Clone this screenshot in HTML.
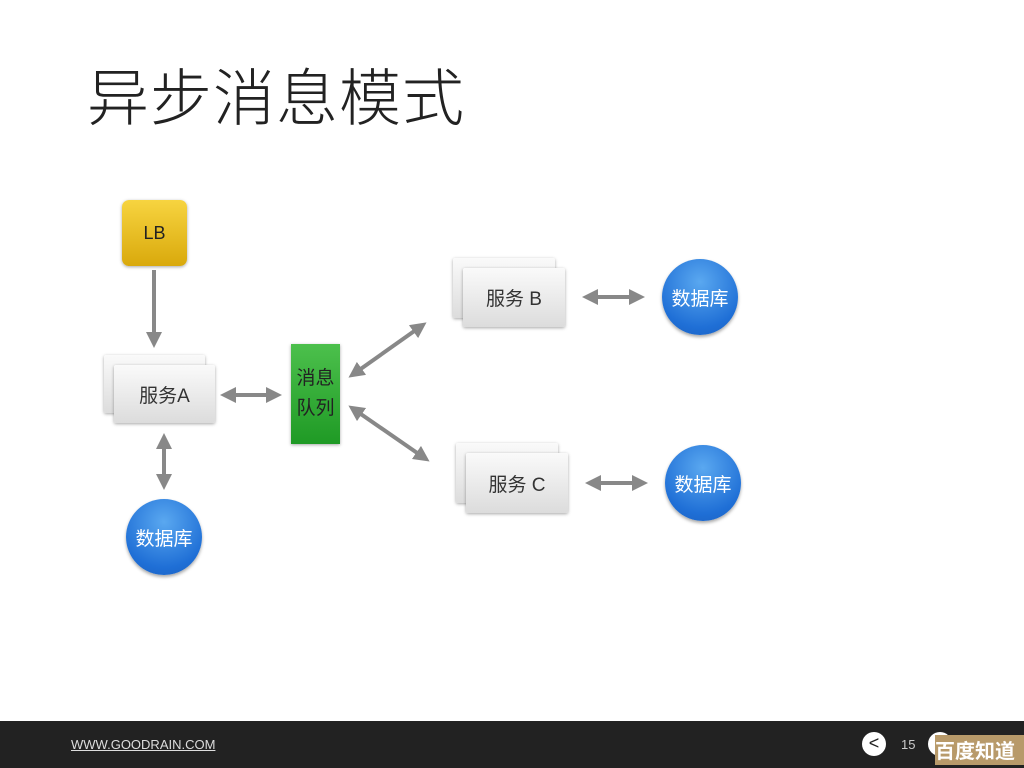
<!DOCTYPE html>
<html><head><meta charset="utf-8"><style>
body{margin:0;width:1024px;height:768px;background:#fff;position:relative;overflow:hidden;font-family:"Liberation Sans","Noto Sans CJK SC",sans-serif}
.t{position:absolute;left:87px;top:48px;font-size:62px;font-weight:300;color:#222;letter-spacing:1px;font-family:"Noto Sans CJK SC",sans-serif}
.card{position:absolute;background:linear-gradient(#fafafa,#dcdcdc);box-shadow:0 1px 3px rgba(0,0,0,.35);border-radius:2px}
.lbl{display:flex;align-items:center;justify-content:center;font-size:19px;color:#333}
.db{position:absolute;width:76px;height:76px;border-radius:50%;background:radial-gradient(circle at 50% 30%,#5aa8f0,#1f6fd6 70%,#1a5fbf);box-shadow:0 2px 3px rgba(0,0,0,.35);color:#fff;font-size:19px;display:flex;align-items:center;justify-content:center}
.foot{position:absolute;left:0;top:721px;width:1024px;height:47px;background:#222}
</style></head><body>
<div class="t">异步消息模式</div>
<div style="position:absolute;left:122px;top:200px;width:65px;height:66px;border-radius:7px;background:linear-gradient(#f7d440,#d9a90c);box-shadow:0 1px 3px rgba(0,0,0,.35);display:flex;align-items:center;justify-content:center;font-size:18px;color:#222">LB</div>
<div class="card" style="left:104px;top:355px;width:101px;height:58px"></div>
<div class="card lbl" style="left:114px;top:365px;width:101px;height:58px">服务A</div>
<div style="position:absolute;left:291px;top:344px;width:49px;height:100px;background:linear-gradient(#4cc04c,#1f9a25);box-shadow:0 1px 3px rgba(0,0,0,.35);color:#222;font-size:19px;display:flex;align-items:center;justify-content:center;text-align:center;line-height:30px">消息<br>队列</div>
<div class="card" style="left:453px;top:258px;width:102px;height:60px"></div>
<div class="card lbl" style="left:463px;top:268px;width:102px;height:59px">服务 B</div>
<div class="card" style="left:456px;top:443px;width:102px;height:60px"></div>
<div class="card lbl" style="left:466px;top:453px;width:102px;height:60px">服务 C</div>
<div class="db" style="left:126px;top:499px">数据库</div>
<div class="db" style="left:662px;top:259px">数据库</div>
<div class="db" style="left:665px;top:445px">数据库</div>
<svg width="1024" height="768" style="position:absolute;left:0;top:0">
<defs><marker id="a" markerWidth="4" markerHeight="4" refX="2" refY="2" orient="auto-start-reverse" markerUnits="strokeWidth"><path d="M0,0 L4,2 L0,4 z" fill="#888"/></marker></defs>
<g stroke="#888" stroke-width="4" fill="none">
<line x1="154" y1="270" x2="154" y2="340" marker-end="url(#a)"/>
<line x1="228" y1="395" x2="274" y2="395" marker-start="url(#a)" marker-end="url(#a)"/>
<line x1="164" y1="441" x2="164" y2="482" marker-start="url(#a)" marker-end="url(#a)"/>
<line x1="355" y1="373" x2="420" y2="327" marker-start="url(#a)" marker-end="url(#a)"/>
<line x1="355" y1="410" x2="423" y2="457" marker-start="url(#a)" marker-end="url(#a)"/>
<line x1="590" y1="297" x2="637" y2="297" marker-start="url(#a)" marker-end="url(#a)"/>
<line x1="593" y1="483" x2="640" y2="483" marker-start="url(#a)" marker-end="url(#a)"/>
</g></svg>
<div class="foot">
<div style="position:absolute;left:71px;top:16px;color:#ddd;font-size:13px;text-decoration:underline">WWW.GOODRAIN.COM</div>
<div style="position:absolute;left:862px;top:11px;width:24px;height:24px;border-radius:50%;background:#fff;color:#222;font-size:18px;text-align:center;line-height:23px">&lt;</div>
<div style="position:absolute;left:901px;top:16px;color:#ccc;font-size:13px">15</div>
<div style="position:absolute;left:928px;top:11px;width:24px;height:24px;border-radius:50%;background:#fff"></div>
<div style="position:absolute;left:935px;top:14px;width:89px;height:30px;background:#b89a6a;color:#fff;font-size:20px;font-weight:bold;line-height:30px;font-family:'Noto Sans CJK SC',sans-serif">百度知道</div>
</div>
</body></html>
